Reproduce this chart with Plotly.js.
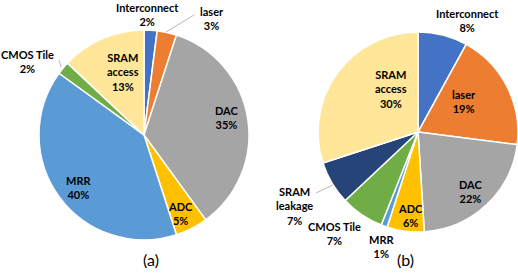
<!DOCTYPE html>
<html><head><meta charset="utf-8">
<script src="https://cdn.plot.ly/plotly-3.0.1.min.js"></script>
<style>html,body{margin:0;padding:0;background:#fff}#c{width:518px;height:280px}</style>
</head><body><div id="c"></div>
<script>
const labelsA = ['Interconnect','laser','DAC','ADC','MRR','CMOS Tile','SRAM access'];
const valuesA = [2,3,35,5,40,2,13];
const colorsA = ['#4472C4','#ED7D31','#A5A5A5','#FFC000','#5B9BD5','#70AD47','#FFE699'];

const labelsB = ['Interconnect','laser','DAC','ADC','MRR','CMOS Tile','SRAM leakage','SRAM access'];
const valuesB = [8,19,22,6,1,7,7,30];
const colorsB = ['#4472C4','#ED7D31','#A5A5A5','#FFC000','#5B9BD5','#70AD47','#264478','#FFE699'];

const panelLabels = ['(a)','(b)'];

// label anchor positions in pixels (layout only)
const posA = [[147,14],[212,18],[227,117],[180,213],[78,188],[27,61],[123,72]];
const posB = [[467,21],[464,101],[471,191],[410,215],[381,246],[334,233],[294,206],[391,89]];
// leader lines in pixels
const leaders = [[[194,15],[166,32]],[[59,60],[61,67]],[[316,193],[333,185]]];

const W = 518, H = 280;
const px = x => x / W, py = y => 1 - y / H;
function wrap(l){ return l.startsWith('SRAM') ? l.replace(' ','<br>') : l; }
const font = {family:'Lato, "Open Sans", sans-serif', size:11, color:'#000'};

function pie(labels, values, colors, dom){
  return {
    type:'pie', labels:labels, values:values, sort:false, direction:'clockwise', rotation:0,
    marker:{colors:colors, line:{color:'#fff', width:1.5}},
    textinfo:'none', hoverinfo:'none', showlegend:false, domain: dom
  };
}
function labelAnns(labels, values, pos){
  return labels.map((l,i) => ({
    text:'<b>' + wrap(l) + '<br>' + values[i] + '%</b>',
    x:px(pos[i][0]), y:py(pos[i][1]), xref:'paper', yref:'paper',
    xanchor:'center', yanchor:'middle', showarrow:false, font:font, align:'center', borderpad:0
  }));
}

const data = [
  pie(labelsA, valuesA, colorsA, {x:[0.075,0.481], y:[0.143,0.893]}),
  pie(labelsB, valuesB, colorsB, {x:[0.614,1.0], y:[0.171,0.886]})
];
const panelFont = {family:'Lato, sans-serif', size:16, color:'#000'};
const layout = {
  width:W, height:H, margin:{l:0,r:0,t:0,b:0},
  paper_bgcolor:'#fff', showlegend:false,
  annotations: labelAnns(labelsA, valuesA, posA).concat(labelAnns(labelsB, valuesB, posB)).concat([
    {text:panelLabels[0], x:px(141), y:py(271), xref:'paper', yref:'paper', showarrow:false, font:panelFont},
    {text:panelLabels[1], x:px(416), y:py(271), xref:'paper', yref:'paper', showarrow:false, font:panelFont}
  ]),
  shapes: leaders.map(s => ({type:'line', xref:'paper', yref:'paper',
    x0:px(s[0][0]), y0:py(s[0][1]), x1:px(s[1][0]), y1:py(s[1][1]),
    line:{color:'#A6A6A6', width:0.8}}))
};
Plotly.newPlot('c', data, layout, {staticPlot:true, displayModeBar:false});
</script></body></html>
